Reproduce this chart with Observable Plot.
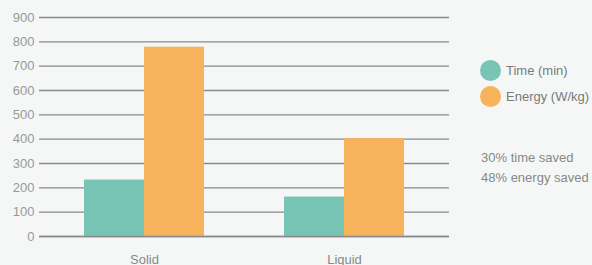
<!DOCTYPE html>
<html><head><meta charset="utf-8">
<script src="https://cdn.jsdelivr.net/npm/d3@7"></script>
<script src="https://cdn.jsdelivr.net/npm/@observablehq/plot@0.6"></script>
<style>
html,body{margin:0;padding:0;background:#f4f7f6;}
#wrap{position:relative;width:592px;height:265px;overflow:hidden;font-family:"Liberation Sans",Arial,sans-serif;}
.leg{position:absolute;left:480px;font-size:13px;color:#7a7a7a;display:flex;align-items:center;white-space:nowrap;}
.sw{width:21px;height:21px;border-radius:50%;margin-right:5px;}
.note{position:absolute;left:481px;font-size:13px;color:#888;line-height:19.5px;white-space:nowrap;}
</style></head>
<body><div id="wrap"></div>
<script>
const categories = ["Solid", "Liquid"];
const series = ["Time (min)", "Energy (W/kg)"];
const timeValues = [232, 162];
const energyValues = [778, 402];
const yTicks = [0, 100, 200, 300, 400, 500, 600, 700, 800, 900];
const notes = ["30% time saved", "48% energy saved"];
const colors = ["#78c4b5", "#f7b35b"];

const timeData = categories.map((c, i) => ({cat: c, value: timeValues[i]}));
const energyData = categories.map((c, i) => ({cat: c, value: energyValues[i]}));

const chart = Plot.plot({
  width: 592, height: 265,
  marginLeft: 39, marginRight: 143, marginTop: 17, marginBottom: 29,
  style: {background: "transparent", fontFamily: "Liberation Sans, Arial, sans-serif"},
  x: {domain: categories, range: [44, 444], padding: 0, label: null},
  y: {domain: [0, 900], label: null},
  marks: [
    Plot.ruleY(yTicks, {stroke: "#8a8a8a", strokeWidth: 1.3}),
    Plot.barY(timeData, {x: "cat", y: "value", fill: colors[0], insetLeft: 40, insetRight: 100}),
    Plot.barY(energyData, {x: "cat", y: "value", fill: colors[1], insetLeft: 100, insetRight: 40}),
    Plot.ruleY([0], {stroke: "#8a8a8a", strokeWidth: 1.3}),
    Plot.axisY({ticks: yTicks, tickSize: 0, tickPadding: 5, fontSize: 13, color: "#999", label: null}),
    Plot.axisX({tickSize: 0, tickPadding: 18, fontSize: 13, color: "#888", label: null})
  ]
});
const wrap = document.getElementById("wrap");
wrap.appendChild(chart);

series.forEach((s, i) => {
  const d = document.createElement("div");
  d.className = "leg";
  d.style.top = (60 + i * 26) + "px";
  d.innerHTML = `<span class="sw" style="background:${colors[i]}"></span><span>${s}</span>`;
  wrap.appendChild(d);
});
const n = document.createElement("div");
n.className = "note";
n.style.top = "148px";
n.innerHTML = notes.join("<br>");
wrap.appendChild(n);
</script></body></html>
